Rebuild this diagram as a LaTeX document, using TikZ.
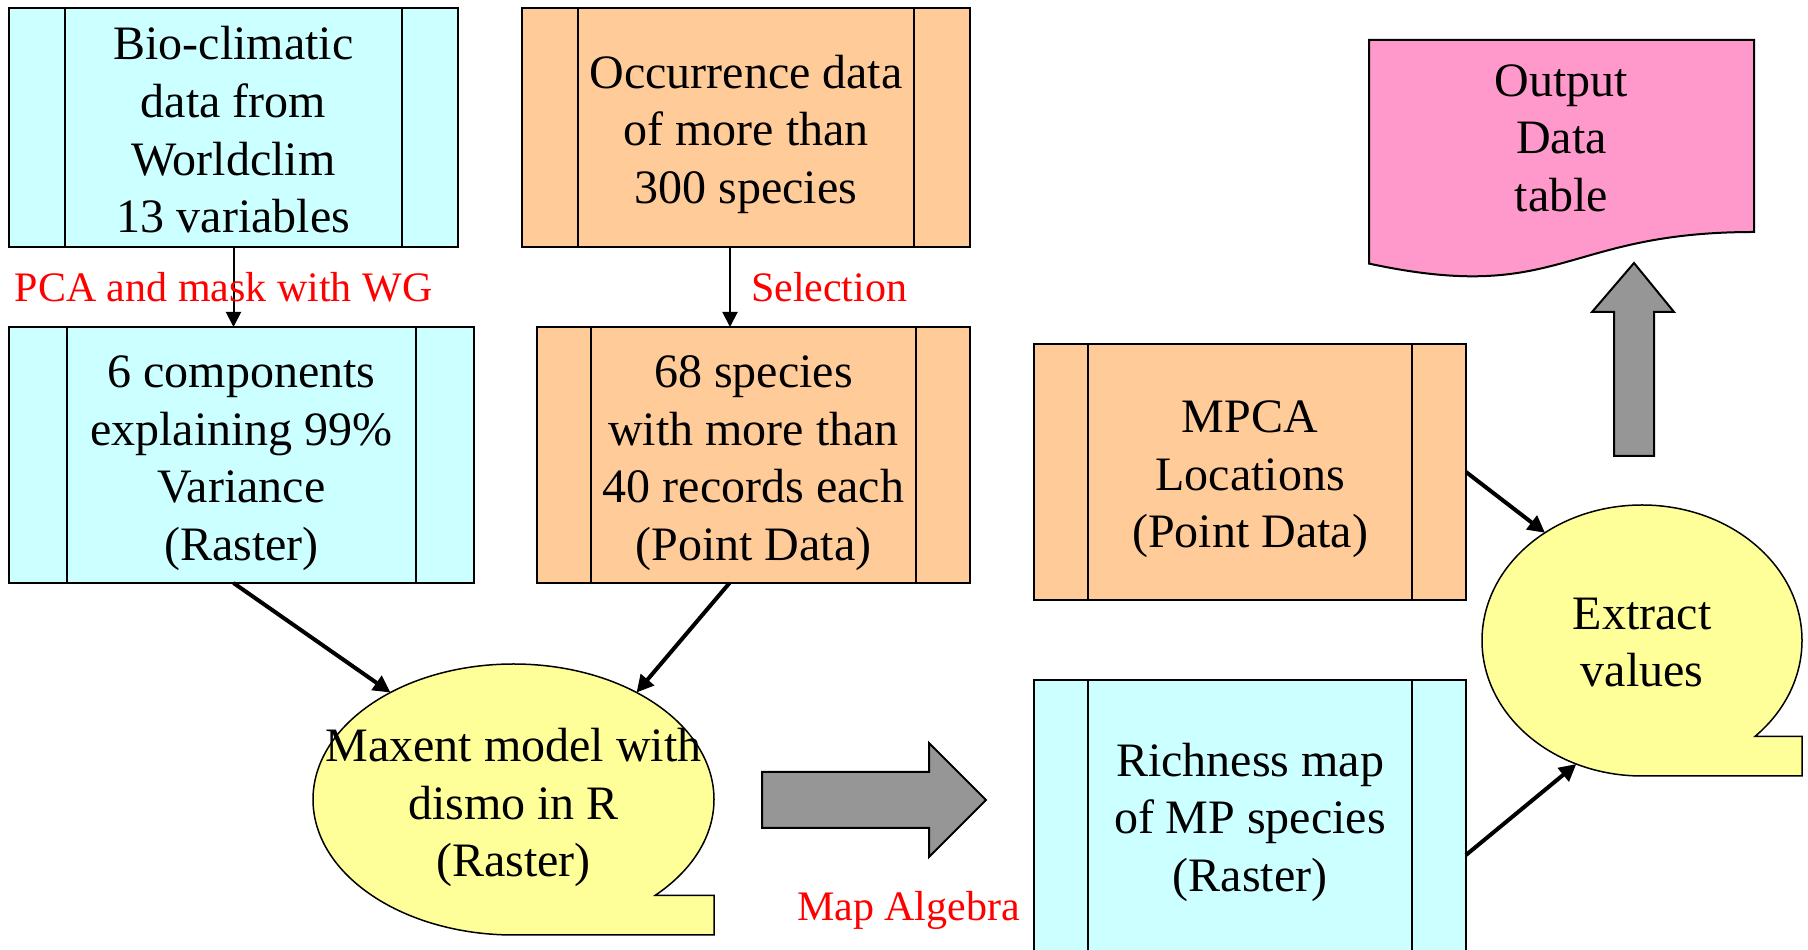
\documentclass[tikz,border=0pt]{standalone}
\usepackage{fontspec}
\setmainfont{Liberation Serif}
\usetikzlibrary{shapes.geometric,arrows.meta,calc}
\definecolor{cyanbox}{HTML}{CCFFFF}
\definecolor{orangebox}{HTML}{FFCC99}
\definecolor{yellowbox}{HTML}{FFFF99}
\definecolor{pinkbox}{HTML}{FF99CC}
\definecolor{grayarrow}{HTML}{969696}
\newcommand\topgap[1]{\rule{0pt}{#1}}

\begin{document}
\begin{tikzpicture}[x=1pt,y=1pt,
    >={Triangle[length=15pt,width=15pt]},
    txt/.style={font=\fontsize{48}{57.6}\selectfont, align=center},
    redtxt/.style={font=\fontsize{42}{50}\selectfont, text=red, inner sep=0pt},
    procbox/.style={draw, line width=2pt, txt, inner sep=0pt, outer sep=0pt,
        path picture={
            \draw[line width=2pt]
              ($(path picture bounding box.north west)!0.125!(path picture bounding box.north east)$) --
              ($(path picture bounding box.south west)!0.125!(path picture bounding box.south east)$);
            \draw[line width=2pt]
              ($(path picture bounding box.north east)!0.125!(path picture bounding box.north west)$) --
              ($(path picture bounding box.south east)!0.125!(path picture bounding box.south west)$);
        }},
    callout/.style={ellipse, inner sep=0pt, outer sep=0pt},
    calloutline/.style={draw, fill=yellowbox, line width=1.5pt},
    blockarrow/.style={draw, fill=grayarrow, line width=2pt}]

    \useasboundingbox (0,0) rectangle (1808,950);

    % process boxes
    \begin{scope}[every node/.style={procbox, fill=cyanbox}]
        \node (Bio) at (233.5,822.5) [minimum width=449pt, minimum height=239pt]
            {\topgap{38pt}Bio-climatic\\data from\\Worldclim\\13 variables};
        \node (Comp) at (241.5,495) [minimum width=465pt, minimum height=256pt]
            {\topgap{48pt}6 components\\explaining 99\%\\Variance\\(Raster)};
        \node (Rich) at (1250,131) [minimum width=432pt, minimum height=278pt]
            {\topgap{40pt}Richness map\\of MP species\\(Raster)};
    \end{scope}
    \begin{scope}[every node/.style={procbox, fill=orangebox}]
        \node (Occ) at (746,822.5) [minimum width=448pt, minimum height=239pt]
            {\topgap{47pt}Occurrence data\\of more than\\300 species};
        \node (Spec) at (753.5,495) [minimum width=433pt, minimum height=256pt]
            {\topgap{48pt}68 species\\with more than\\40 records each\\(Point Data)};
        \node (MPCA) at (1250,478) [minimum width=432pt, minimum height=256pt]
            {\topgap{47pt}MPCA\\Locations\\(Point Data)};
    \end{scope}

    % callouts
    \node[callout, minimum width=401pt, minimum height=271pt] (Maxent) at (513.5,150.5) {};
    \coordinate (MaxentTail) at ($(Maxent.center)+(-45:200.5pt and 135.5pt)$);
    \draw[calloutline] (MaxentTail)
        arc[start angle=-45, end angle=270, x radius=200.5pt, y radius=135.5pt]
        -- (Maxent.south -| Maxent.east) -- (MaxentTail -| Maxent.east) -- cycle;
    \node[txt] (MaxentText) at ([yshift=-8pt]Maxent.center) {Maxent model with\\dismo in R\\(Raster)};

    \node[callout, minimum width=320pt, minimum height=271pt] (Extract) at (1642,309.5) {};
    \coordinate (ExtractTail) at ($(Extract.center)+(-45:160pt and 135.5pt)$);
    \draw[calloutline] (ExtractTail)
        arc[start angle=-45, end angle=270, x radius=160pt, y radius=135.5pt]
        -- (Extract.south -| Extract.east) -- (ExtractTail -| Extract.east) -- cycle;
    \node[txt] (ExtractText) at ([yshift=-2pt]Extract.center) {Extract\\values};

    % output document
    \draw[fill=pinkbox, line width=2pt] (1369,910) -- (1754,910) -- (1754,718)
        .. controls (1561.5,718) and (1561.5,645) .. (1369,686.4) -- cycle;
    \node[txt] (Out) at (1561.5,812) {Output\\Data\\table};

    % block arrows
    \draw[blockarrow] (762,178) -- (929,178) -- (929,207) -- (986,150)
        -- (929,93) -- (929,122) -- (762,122) -- cycle;
    \draw[blockarrow] (1614,494) -- (1614,638) -- (1592,638) -- (1634,687)
        -- (1674,638) -- (1654,638) -- (1654,494) -- cycle;
    \node[redtxt] (MapAlg) at (908.5,40) {Map Algebra};

    % connectors
    \begin{scope}[every path/.style={->, line width=2pt}]
        \path (Bio.south) edge node[redtxt, midway, xshift=-10pt]{PCA and mask with WG} (Bio.south |- Comp.north);
        \path ([xshift=-16pt]Occ.south) edge node[redtxt, midway, right=20pt]{Selection} ([xshift=-16pt]Occ.south |- Spec.north);
    \end{scope}
    \begin{scope}[every path/.style={->, line width=4pt}, >={Triangle[length=17pt,width=17pt]}]
        \path ([xshift=-8pt]Comp.south) edge (Maxent.139);
        \path ([xshift=-24pt]Spec.south) edge (Maxent.41);
        \path (MPCA.east) edge (Extract.132);
        \path ([yshift=-36pt]Rich.east) edge (Extract.242);
    \end{scope}
\end{tikzpicture}
\end{document}
